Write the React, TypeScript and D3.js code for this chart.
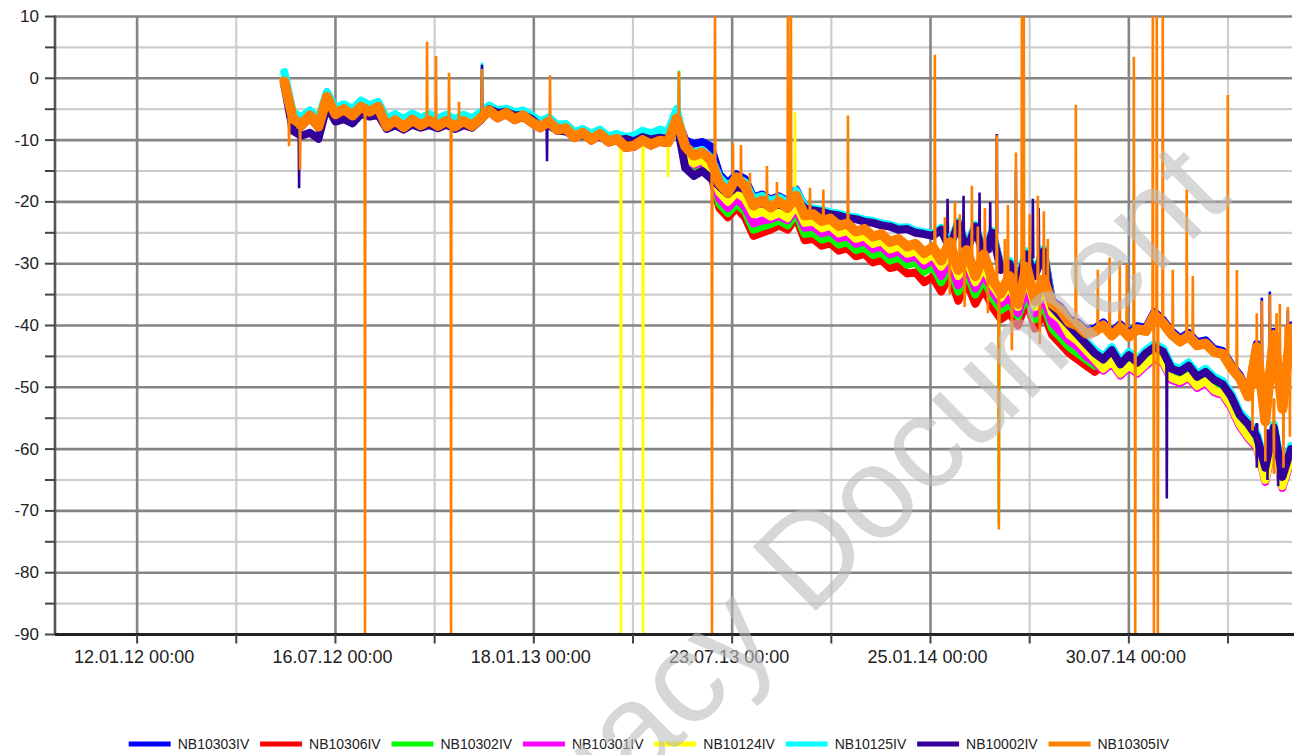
import React from "react";
import * as d3 from "d3";

// ---------- data ----------
const seriesNames = ["NB10303IV", "NB10306IV", "NB10302IV", "NB10301IV", "NB10124IV", "NB10125IV", "NB10002IV", "NB10305IV"];
const seriesColors = ["#0000ff", "#ff0000", "#00ff00", "#ff00ff", "#ffff00", "#00ffff", "#330099", "#ff8000"];

const majorTickDates = ["2012-01-12", "2012-07-16", "2013-01-18", "2013-07-23", "2014-01-25", "2014-07-30"];
const majorTickLabels = ["12.01.12 00:00", "16.07.12 00:00", "18.01.13 00:00", "23.07.13 00:00", "25.01.14 00:00", "30.07.14 00:00"];
const minorTickDates = ["2012-04-14", "2012-10-17", "2013-04-21", "2013-10-24", "2014-04-28", "2014-10-31"];
const yMajorTicks = [10, 0, -10, -20, -30, -40, -50, -60, -70, -80, -90];
const yMinorTicks = [5, -5, -15, -25, -35, -45, -55, -65, -75, -85];

const domainStart = "2011-10-27";
const domainEnd = "2014-12-30";
const dayZero = "2012-01-12";
// sample days (days after 12.01.12)
const days = d3.range(138, 1090, 8);

const blueValues = [
  -0.3, -6.2, -7.2, -5.8, -7.5, -2.8, -5.5, -4.8, -5.8, -4.4,
  -5.2, -4.4, -7.6, -6.6, -7.7, -6.5, -7.4, -6.6, -7.5, -6.7,
  -7.6, -6.7, -7.5, -6.3, -5.0, -6.1, -5.4, -6.4, -5.8, -6.9,
  -7.7, -6.8, -8.1, -7.9, -9.3, -8.6, -9.7, -8.8, -10.0, -9.6,
  -10.9, -10.7, -9.8, -10.5, -9.9, -10.1, -6.3, -10.0, -10.6, -10.3,
  -11.0, -15.5, -17.0, -15.5, -16.3, -19.3, -18.8, -19.6, -19.1, -19.9,
  -18.0, -20.8, -21.2, -21.4, -21.8, -22.0, -22.4, -22.6, -23.0, -23.2,
  -23.6, -23.8, -24.3, -24.2, -24.8, -25.0, -25.3, -24.3, -27.2, -23.3,
  -27.6, -23.8, -28.6, -24.8, -30.6, -29.6, -32.6, -28.2, -31.6, -27.8,
  -36.0, -37.0, -39.0, -39.5, -40.8, -40.5, -39.5, -41.1, -39.8, -41.3,
  -40.1, -40.4, -37.8, -39.1, -40.9, -42.1, -41.2, -42.7, -42.4, -43.8,
  -44.1, -46.3, -48.0, -51.0, -43.0, -55.0, -41.0, -53.0, -40.0,
];
const redValues = [
  -0.8, -6.8, -7.8, -6.3, -8.0, -3.3, -6.0, -5.2, -6.2, -4.9,
  -5.7, -4.9, -8.0, -7.0, -8.1, -6.9, -7.8, -7.0, -7.9, -7.1,
  -8.0, -7.1, -7.9, -6.7, -5.4, -6.5, -5.8, -6.8, -6.2, -7.3,
  -8.1, -7.2, -8.5, -8.3, -9.7, -9.0, -10.1, -9.2, -10.4, -10.0,
  -11.3, -11.1, -10.2, -10.9, -10.3, -10.5, -6.7, -13.2, -14.5, -14.0,
  -15.5, -21.0, -22.5, -21.0, -22.5, -25.5, -25.0, -24.5, -23.8, -24.5,
  -22.5, -26.2, -26.0, -27.1, -26.7, -27.9, -27.5, -28.8, -28.4, -29.8,
  -29.4, -30.7, -30.4, -31.6, -31.4, -33.0, -32.2, -34.5, -32.0, -36.0,
  -33.0, -36.5, -34.0, -37.0, -39.0, -38.0, -40.0, -36.0, -40.5, -38.0,
  -41.5, -43.0, -44.5, -45.5, -46.5, -47.5, -46.5, -45.3, -47.3, -46.0,
  -47.0, -45.7, -44.5, -45.3, -48.0, -48.5, -47.7, -49.3, -48.5, -50.0,
  -50.5, -52.5, -55.5, -57.5, -59.0, -64.5, -58.0, -65.5, -61.0,
];
const greenValues = [
  -0.7, -6.7, -7.7, -6.2, -7.9, -3.2, -5.9, -5.1, -6.1, -4.8,
  -5.6, -4.8, -7.9, -6.9, -8.0, -6.8, -7.7, -6.9, -7.8, -7.0,
  -7.9, -7.0, -7.8, -6.6, -5.3, -6.4, -5.7, -6.7, -6.1, -7.2,
  -8.0, -7.1, -8.4, -8.2, -9.6, -8.9, -10.0, -9.1, -10.3, -9.9,
  -11.2, -11.0, -10.1, -10.8, -10.2, -10.4, -6.6, -13.0, -14.2, -13.8,
  -15.2, -20.3, -21.8, -20.3, -21.5, -24.5, -24.0, -23.6, -23.0, -23.8,
  -21.8, -25.2, -25.0, -26.1, -25.7, -26.9, -26.5, -27.8, -27.4, -28.6,
  -28.2, -29.5, -29.0, -30.2, -29.8, -31.3, -30.3, -33.0, -30.5, -34.5,
  -31.5, -35.0, -32.5, -35.5, -37.5, -36.5, -38.5, -35.0, -39.0, -36.5,
  -40.5, -42.0, -43.5, -44.5, -45.5, -46.5, -46.3, -45.1, -47.1, -45.8,
  -46.8, -45.5, -44.3, -45.1, -47.8, -48.3, -47.5, -49.1, -48.3, -49.8,
  -50.3, -52.3, -55.3, -57.3, -58.8, -64.3, -57.8, -65.3, -60.8,
];
const magentaValues = [
  -0.6, -6.6, -7.6, -6.1, -7.8, -3.1, -5.9, -5.1, -6.1, -4.7,
  -5.5, -4.7, -7.9, -6.9, -8.0, -6.8, -7.7, -6.9, -7.8, -7.0,
  -7.9, -7.0, -7.8, -6.6, -5.3, -6.4, -5.7, -6.7, -6.1, -7.2,
  -8.0, -7.1, -8.4, -8.2, -9.6, -8.9, -10.0, -9.1, -10.3, -9.9,
  -11.2, -11.0, -10.1, -10.8, -10.2, -10.4, -6.6, -12.8, -14.0, -13.6,
  -15.0, -19.5, -21.0, -19.5, -20.8, -23.5, -23.0, -22.8, -22.3, -23.0,
  -21.2, -24.2, -24.0, -25.1, -24.7, -25.9, -25.5, -26.8, -26.4, -27.6,
  -27.2, -28.5, -28.0, -29.2, -28.8, -30.3, -29.3, -32.0, -29.5, -33.5,
  -30.5, -34.0, -31.5, -34.5, -36.5, -35.5, -38.0, -34.0, -38.0, -35.5,
  -39.5, -41.0, -42.5, -43.5, -45.0, -46.0, -47.3, -46.1, -48.1, -46.8,
  -47.8, -46.5, -45.3, -46.1, -48.8, -49.3, -48.5, -50.1, -49.3, -50.8,
  -51.3, -53.3, -56.3, -58.3, -59.8, -65.3, -58.8, -66.3, -61.8,
];
const yellowValues = [
  -0.2, -6.0, -6.8, -5.5, -7.2, -2.6, -5.3, -4.6, -5.5, -4.2,
  -5.0, -4.3, -7.4, -6.5, -7.5, -6.4, -7.2, -6.5, -7.3, -6.6,
  -7.4, -6.6, -7.3, -6.2, -5.0, -6.0, -5.4, -6.3, -5.8, -6.8,
  -7.6, -6.8, -8.1, -7.9, -9.3, -8.6, -9.7, -8.8, -10.0, -9.6,
  -10.9, -10.7, -9.8, -10.5, -9.9, -10.1, -6.3, -12.5, -13.8, -13.2,
  -14.8, -18.5, -20.0, -18.5, -19.5, -22.0, -21.5, -22.4, -21.8, -22.6,
  -20.5, -23.4, -23.2, -24.3, -23.9, -25.1, -24.7, -26.0, -25.6, -26.8,
  -26.4, -27.7, -27.2, -28.4, -28.0, -29.5, -28.5, -30.5, -28.5, -32.0,
  -29.5, -33.0, -30.5, -33.5, -35.5, -33.5, -37.0, -32.0, -37.0, -34.0,
  -38.0, -39.0, -41.5, -42.5, -44.0, -45.5, -47.0, -45.8, -47.8, -46.5,
  -47.5, -46.2, -45.0, -45.8, -48.5, -49.0, -48.2, -49.8, -49.0, -50.5,
  -51.0, -53.0, -56.0, -58.0, -59.5, -65.0, -58.5, -66.0, -61.5,
];
const cyanValues = [
  1.0, -5.5, -6.3, -5.2, -6.6, -2.2, -4.8, -4.2, -5.0, -3.6,
  -4.4, -3.8, -6.5, -5.8, -6.6, -5.7, -6.4, -5.8, -6.5, -5.9,
  -6.6, -5.9, -6.5, -5.5, -4.4, -5.2, -4.9, -5.5, -5.2, -6.0,
  -7.0, -6.3, -7.5, -7.4, -8.7, -8.2, -9.0, -8.3, -9.4, -9.0,
  -9.5, -9.3, -8.5, -8.9, -8.3, -8.6, -5.0, -11.0, -12.0, -11.6,
  -12.8, -16.0, -17.5, -16.0, -16.8, -19.5, -19.0, -19.8, -19.3, -20.1,
  -18.2, -20.7, -21.1, -21.3, -21.7, -21.9, -22.3, -22.5, -22.9, -23.1,
  -23.5, -23.7, -24.2, -24.1, -24.7, -24.9, -25.2, -24.2, -27.0, -23.2,
  -27.5, -23.7, -28.5, -24.7, -30.5, -29.5, -32.5, -28.0, -31.5, -27.6,
  -36.5, -38.0, -39.5, -41.0, -42.5, -44.0, -45.0, -43.5, -45.8, -44.3,
  -45.5, -44.0, -43.0, -43.7, -46.5, -47.0, -46.0, -47.8, -47.0, -48.3,
  -49.0, -51.0, -54.0, -55.5, -57.5, -62.5, -56.0, -64.0, -59.5,
];
const purpleValues = [
  -1.0, -8.5, -9.3, -8.8, -9.8, -4.5, -7.0, -6.6, -7.3, -5.8,
  -6.2, -5.9, -8.2, -7.6, -8.3, -7.5, -8.0, -7.6, -8.1, -7.5,
  -8.2, -7.6, -8.0, -6.8, -5.0, -5.6, -5.4, -6.0, -5.9, -6.6,
  -7.8, -7.6, -8.4, -8.6, -9.3, -9.2, -9.6, -9.5, -10.0, -10.0,
  -9.8, -10.2, -9.5, -9.9, -9.6, -9.8, -7.0, -14.5, -15.8, -15.0,
  -16.2, -17.5, -18.7, -17.5, -18.0, -20.5, -20.2, -20.8, -20.4, -21.0,
  -19.5, -21.0, -21.4, -21.6, -22.0, -22.2, -22.6, -22.8, -23.2, -23.4,
  -23.8, -24.0, -24.5, -24.4, -25.0, -25.2, -25.5, -24.5, -27.5, -23.5,
  -28.0, -24.0, -29.0, -25.0, -31.0, -30.0, -33.0, -28.5, -32.0, -28.0,
  -37.0, -38.5, -40.0, -41.5, -43.0, -44.5, -45.5, -44.0, -46.3, -44.8,
  -46.0, -44.5, -43.5, -44.2, -47.0, -47.5, -46.5, -48.3, -47.5, -48.8,
  -49.5, -51.5, -54.5, -56.0, -58.0, -63.0, -56.5, -64.5, -60.0,
];
const orangeValues = [
  -0.5, -6.5, -7.5, -6.0, -7.8, -3.0, -5.8, -5.0, -6.0, -4.6,
  -5.4, -4.6, -7.8, -6.8, -7.9, -6.7, -7.6, -6.8, -7.7, -6.9,
  -7.8, -6.9, -7.7, -6.5, -5.2, -6.3, -5.6, -6.6, -6.0, -7.1,
  -7.9, -7.0, -8.3, -8.1, -9.5, -8.8, -9.9, -9.0, -10.2, -9.8,
  -11.1, -10.9, -10.0, -10.7, -10.1, -10.3, -6.5, -11.0, -12.5, -12.0,
  -13.2, -17.0, -18.5, -16.0, -17.5, -20.6, -19.8, -20.9, -20.0, -21.0,
  -19.0, -22.2, -22.0, -23.1, -22.7, -23.9, -23.5, -24.8, -24.4, -25.6,
  -25.2, -26.5, -26.0, -27.2, -26.8, -28.3, -27.3, -29.5, -26.5, -31.0,
  -27.8, -32.0, -28.5, -32.5, -34.8, -32.0, -36.5, -30.5, -36.0, -32.5,
  -36.5, -37.5, -39.5, -40.0, -41.3, -41.0, -40.0, -41.6, -40.3, -41.8,
  -40.6, -40.9, -38.3, -39.6, -41.4, -42.6, -41.7, -43.2, -42.9, -44.3,
  -44.6, -46.8, -48.5, -51.5, -43.5, -55.5, -41.5, -53.5, -40.5,
];

// spikes: [day, base value, peak value]
const blueSpikes = [[1054.7, -49, -35.5], [1062.2, -47, -34.5], [1079.1, -45, -37.5]];
const redSpikes: number[][] = [];
const greenSpikes = [[508.1, -6.6, 1.2], [808.1, -35.0, -72.0]];
const magentaSpikes: number[][] = [];
const yellowSpikes = [[453.7, -10.0, -90], [474.4, -10.3, -90], [498.0, -10.0, -16.0], [616.9, -20.0, -5.5]];
const cyanSpikes = [[323.4, -6.0, 2.5], [508.1, -5.5, 1.0]];
const purpleSpikes = [
  [151.9, -9.0, -17.8], [323.4, -7.0, 2.2], [384.4, -7.6, -13.4], [760.0, -25.0, -19.5], [775.0, -26.0, -19.0],
  [790.0, -27.0, -18.5], [800.0, -28.0, -20.0], [806.2, -25.0, -9.0], [824.1, -30.0, -15.0], [840.0, -29.0, -19.5],
  [845.5, -30.0, -21.0], [965.6, -46.0, -68.0], [1050.0, -56.0, -63.0], [1060.0, -57.0, -65.0], [1070.0, -58.0, -66.0],
];
const orangeSpikes = [
  [142.5, -6.5, -11.0], [152.8, -7.0, -14.8], [213.7, -5.0, -90], [271.9, -7.0, 5.9], [280.3, -7.2, 3.6],
  [292.5, -7.3, 0.9], [294.4, -7.5, -90], [301.9, -7.2, -3.8], [323.4, -6.8, 1.5], [387.2, -7.2, 0.5],
  [508.1, -6.5, 1.0], [539.1, -13.5, -90], [541.9, -13.8, 14], [558.8, -17.5, -10.5], [566.3, -17.2, -10.8],
  [574.7, -20.5, -15.3], [590.6, -20.3, -14.2], [600.0, -20.5, -16.8], [610.3, -21.0, 14], [613.1, -20.5, 14],
  [631.0, -22.0, -17.7], [643.5, -22.5, -18.0], [666.6, -23.8, -6.0], [748.1, -27.5, 3.8], [757.5, -28.5, -22.5],
  [762.0, -28.0, -35.0], [766.9, -28.0, -20.0], [771.5, -30.0, -22.0], [776.0, -30.0, -37.0], [782.8, -29.5, -17.4],
  [788.4, -30.0, -24.0], [795.0, -29.0, -21.0], [797.8, -31.0, -38.0], [806.2, -33.0, -9.2], [808.1, -34.0, -73.0],
  [813.7, -33.0, -26.0], [816.6, -32.5, -20.5], [820.3, -34.0, -44.0], [824.1, -34.0, -12.0], [829.7, -33.0, 14],
  [831.5, -34.0, 14], [837.0, -32.0, -22.0], [844.7, -34.0, -19.0], [846.5, -33.0, -43.0], [850.3, -33.5, -21.5],
  [854.0, -35.0, -26.0], [880.3, -40.0, -4.3], [900.9, -41.0, -31.0], [912.0, -41.2, -29.0], [921.5, -40.8, -29.5],
  [928.1, -41.5, -30.0], [934.7, -41.0, 3.5], [936.0, -41.0, -90], [952.5, -39.0, 14], [953.5, -39.0, -90],
  [956.2, -39.2, 14], [957.2, -39.2, -90], [961.8, -39.5, 14], [971.2, -41.8, -31.0], [984.3, -42.0, -18.0],
  [990.0, -42.8, -32.0], [1022.8, -46.0, -2.7], [1031.3, -47.0, -31.0], [1046.0, -47.0, -57.0], [1050.0, -50.0, -38.0],
  [1054.7, -50.0, -36.0], [1058.0, -50.0, -62.0], [1062.2, -48.0, -35.0], [1066.0, -52.0, -64.0], [1068.5, -47.0, -38.0],
  [1071.6, -50.0, -36.5], [1075.0, -50.0, -63.0], [1077.0, -50.0, -40.0], [1079.1, -45.0, -37.0], [1081.0, -45.0, -58.0],
];

const allValues = [blueValues, redValues, greenValues, magentaValues, yellowValues, cyanValues, purpleValues, orangeValues];
const allSpikes = [blueSpikes, redSpikes, greenSpikes, magentaSpikes, yellowSpikes, cyanSpikes, purpleSpikes, orangeSpikes];

// ---------- layout ----------
const W = 1295;
const H = 755;
const PL = 55, PR = 1292, PT = 16.5, PB = 634.5;
const FONT = "'Liberation Sans', Arial, sans-serif";

const toDate = (s: string) => new Date(s + "T00:00:00Z");
const zeroMs = toDate(dayZero).getTime();
const dayToDate = (d: number) => new Date(zeroMs + d * 864e5);

export default function App() {
  const x = d3.scaleUtc().domain([toDate(domainStart), toDate(domainEnd)]).range([PL, PR]);
  const y = d3.scaleLinear().domain([-90, 10]).range([PB, PT]);
  const line = d3
    .line<[Date, number]>()
    .x((d) => x(d[0]))
    .y((d) => y(d[1]));

  const basePath = (values: number[]) => {
    const n = Math.min(values.length, days.length);
    const pts: [Date, number][] = [];
    for (let i = 0; i < n; i++) pts.push([dayToDate(days[i]), values[i]]);
    return line(pts) || "";
  };
  const spikePath = (spikes: number[][]) =>
    spikes
      .map(([d, b, p]) =>
        line([
          [dayToDate(d - 0.35), b],
          [dayToDate(d), p],
          [dayToDate(d + 0.35), b],
        ])
      )
      .join("");

  const majorX = majorTickDates.map((s) => x(toDate(s)));
  const minorX = minorTickDates.map((s) => x(toDate(s)));

  return (
    <svg width={W} height={H} style={{ position: "absolute", left: 0, top: 0, background: "#fff" }}>
      <defs>
        <clipPath id="plotClip">
          <rect x={PL} y={PT} width={PR - PL} height={PB - PT} />
        </clipPath>
      </defs>
      <rect x={0} y={0} width={W} height={H} fill="#fff" />
      {/* minor grid */}
      <g stroke="#cdcdcd" strokeWidth={2.2}>
        {yMinorTicks.map((v) => (
          <line key={"hy" + v} x1={PL} x2={PR} y1={y(v)} y2={y(v)} />
        ))}
        {minorX.map((xx, i) => (
          <line key={"hx" + i} x1={xx} x2={xx} y1={PT} y2={PB} />
        ))}
      </g>
      {/* major grid */}
      <g stroke="#858585" strokeWidth={2.6}>
        {yMajorTicks.filter((v) => v > -90).map((v) => (
          <line key={"gy" + v} x1={PL} x2={PR} y1={y(v)} y2={y(v)} />
        ))}
        {majorX.map((xx, i) => (
          <line key={"gx" + i} x1={xx} x2={xx} y1={PT} y2={PB} />
        ))}
      </g>
      {/* series */}
      <g clipPath="url(#plotClip)" fill="none" strokeLinejoin="round" strokeLinecap="round">
        {allValues.map((vals, i) => (
          <g key={seriesNames[i]} stroke={seriesColors[i]}>
            <path d={basePath(vals)} strokeWidth={i === 7 ? 10 : 8} />
            <path d={spikePath(allSpikes[i])} strokeWidth={2.6} strokeLinejoin="miter" strokeMiterlimit={1} />
          </g>
        ))}
      </g>
      {/* axes */}
      <line x1={PL} x2={PL} y1={PT - 1} y2={PB} stroke="#555" strokeWidth={2.6} />
      <line x1={PL} x2={PR + 2} y1={PB} y2={PB} stroke="#222" strokeWidth={2.8} />
      <g stroke="#444" strokeWidth={2}>
        {[...yMajorTicks, ...yMinorTicks].map((v) => (
          <line key={"ty" + v} x1={PL - 10} x2={PL} y1={y(v)} y2={y(v)} />
        ))}
        {[...majorX, ...minorX].map((xx, i) => (
          <line key={"tx" + i} x1={xx} x2={xx} y1={PB} y2={PB + 9} />
        ))}
      </g>
      <g fontFamily={FONT} fontSize={17} fill="#222" textAnchor="end">
        {yMajorTicks.map((v) => (
          <text key={"ly" + v} x={39} y={y(v)} dominantBaseline="central">
            {v}
          </text>
        ))}
      </g>
      <g fontFamily={FONT} fontSize={18} fill="#222" textAnchor="middle">
        {majorTickLabels.map((t, i) => (
          <text key={"lx" + i} x={majorX[i] - 3} y={663}>
            {t}
          </text>
        ))}
      </g>
      {/* legend */}
      <g fontFamily={FONT} fontSize={14} fill="#222">
        {seriesNames.map((n, i) => {
          const x0 = 128.7 + i * 131.4;
          return (
            <g key={"lg" + n}>
              <line x1={x0} x2={x0 + 42} y1={744} y2={744} stroke={seriesColors[i]} strokeWidth={5} />
              <text x={x0 + 49} y={749}>
                {n}
              </text>
            </g>
          );
        })}
      </g>
      {/* watermark */}
      <text
        x={1234}
        y={200}
        fontFamily={FONT}
        fontSize={131}
        fill="#bdbdbd"
        opacity={0.6}
        textAnchor="end"
        transform="rotate(-44.5 1234 200)"
      >
        Legacy Document
      </text>
    </svg>
  );
}
